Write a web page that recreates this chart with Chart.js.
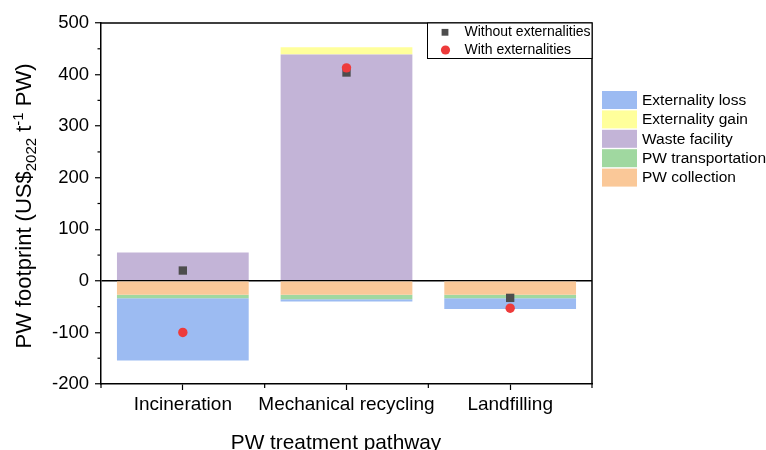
<!DOCTYPE html>
<html>
<head>
<meta charset="utf-8">
<script src="https://cdn.jsdelivr.net/npm/chart.js@4.4.1/dist/chart.umd.min.js"></script>
<style>
  html, body { margin: 0; padding: 0; background: #fff; }
  #wrap { width: 766px; height: 450px; }
</style>
</head>
<body>
<div id="wrap"><canvas id="grafico" width="766" height="450"></canvas></div>
<script>
// dados (US$2022 por t de PW)
const categorias = ['Incineration', 'Mechanical recycling', 'Landfilling'];
const pwCollection = [-27, -27, -27];
const pwTransportation = [-6.5, -8.5, -6.5];
const wasteFacility = [55, 439, 0];
const externalityGain = [0, 14, 0];
const externalityLoss = [-121, -4.5, -21];
const withoutExternalities = [20, 404, -33];
const withExternalities = [-100, 413, -53];

const yMin = -200, yMax = 500, yStep = 100;

const FONTE = "'Liberation Sans', Arial, sans-serif";

const cores = {
    loss: 'rgb(156,187,242)',
    gain: 'rgb(255,255,155)',
    waste: 'rgb(195,180,215)',
    transp: 'rgb(160,216,160)',
    collect: 'rgb(250,200,152)'
};

// ordem do empilhamento: a partir do zero
const seriesBarras = [
    { label: 'PW collection', data: pwCollection, cor: cores.collect },
    { label: 'PW transportation', data: pwTransportation, cor: cores.transp },
    { label: 'Waste facility', data: wasteFacility, cor: cores.waste },
    { label: 'Externality gain', data: externalityGain, cor: cores.gain },
    { label: 'Externality loss', data: externalityLoss, cor: cores.loss }
];

const extras = {
    id: 'extras',
    afterDraw(chart) {
        const ctx = chart.ctx;
        const { left, right, top, bottom } = chart.chartArea;
        const y = chart.scales.y;
        ctx.save();
        ctx.strokeStyle = '#000';
        ctx.lineWidth = 1.5;
        // moldura de cima e da direita
        ctx.beginPath();
        ctx.moveTo(left, top);
        ctx.lineTo(right, top);
        ctx.lineTo(right, bottom);
        ctx.stroke();

        // ticks menores no eixo y
        ctx.lineWidth = 1.2;
        for (let v = yMin + yStep / 2; v < yMax; v += yStep) {
            const py = y.getPixelForValue(v);
            ctx.beginPath();
            ctx.moveTo(left - 3.5, py);
            ctx.lineTo(left, py);
            ctx.stroke();
        }
        // ticks entre as categorias
        const w = (right - left) / categorias.length;
        for (let i = 0; i <= categorias.length; i++) {
            const px = left + i * w;
            ctx.beginPath();
            ctx.moveTo(px, bottom);
            ctx.lineTo(px, bottom + 4);
            ctx.stroke();
        }

        // título do eixo x
        ctx.fillStyle = '#000';
        ctx.font = '20.8px ' + FONTE;
        ctx.textAlign = 'center';
        ctx.textBaseline = 'alphabetic';
        ctx.fillText('PW treatment pathway', 336, 449);
        ctx.textAlign = 'left';

        // título do eixo y com sub e sobrescrito
        ctx.save();
        ctx.translate(31, (top + bottom) / 2 + 2.5);
        ctx.rotate(-Math.PI / 2);
        const partes = [
            { t: 'PW footprint (US$', s: 22, dy: 0 },
            { t: '2022', s: 15, dy: 5 },
            { t: ' t', s: 22, dy: 0 },
            { t: '-1', s: 15, dy: -8.5 },
            { t: ' PW)', s: 22, dy: 0 }
        ];
        let total = 0;
        partes.forEach(p => {
            ctx.font = p.s + 'px ' + FONTE;
            p.w = ctx.measureText(p.t).width;
            total += p.w;
        });
        let cx = -total / 2;
        partes.forEach(p => {
            ctx.font = p.s + 'px ' + FONTE;
            ctx.fillText(p.t, cx, p.dy);
            cx += p.w;
        });
        ctx.restore();

        // legenda dos pontos (dentro do gráfico)
        ctx.fillStyle = '#fff';
        ctx.fillRect(427.5, top, right - 427.5, 58.5 - top);
        ctx.lineWidth = 1;
        ctx.strokeStyle = '#000';
        ctx.strokeRect(427.5, top, right - 427.5, 58.5 - top);
        ctx.font = '14px ' + FONTE;
        ctx.textBaseline = 'middle';
        ctx.fillStyle = '#4d4d4d';
        ctx.fillRect(445 - 3.4, 32.3 - 3.4, 6.8, 6.8);
        ctx.fillStyle = '#000';
        ctx.fillText('Without externalities', 464.5, 32.5);
        ctx.fillStyle = '#ee3b3b';
        ctx.beginPath();
        ctx.arc(445.5, 50, 4.6, 0, Math.PI * 2);
        ctx.fill();
        ctx.fillStyle = '#000';
        ctx.fillText('With externalities', 464.5, 50);

        // legenda das barras (fora, à direita)
        ctx.font = '15.5px ' + FONTE;
        const itens = seriesBarras.slice().reverse();
        itens.forEach((s, i) => {
            const ty = 91 + i * 19.4;
            ctx.fillStyle = s.cor;
            ctx.fillRect(602, ty, 35, 18);
            ctx.fillStyle = '#000';
            ctx.fillText(s.label, 642, ty + 9.5);
        });
        ctx.restore();
    }
};

const datasets = seriesBarras.map(s => ({
    type: 'bar',
    label: s.label,
    data: s.data,
    backgroundColor: s.cor,
    borderWidth: 0,
    categoryPercentage: 1,
    barPercentage: 0.805,
    order: 2
}));

datasets.push({
    type: 'line',
    label: 'Without externalities',
    data: withoutExternalities,
    stack: 'semExt',
    showLine: false,
    pointStyle: 'rect',
    pointRadius: 5.9,
    pointBackgroundColor: '#4d4d4d',
    pointBorderWidth: 0,
    order: 1
});
datasets.push({
    type: 'line',
    label: 'With externalities',
    data: withExternalities,
    stack: 'comExt',
    showLine: false,
    pointStyle: 'circle',
    pointRadius: 4.7,
    pointBackgroundColor: '#ee3b3b',
    pointBorderWidth: 0,
    order: 0
});

const ctx = document.getElementById('grafico').getContext('2d');
const grafico = new Chart(ctx, {
    type: 'bar',
    data: { labels: categorias, datasets: datasets },
    plugins: [extras],
    options: {
        responsive: false,
        animation: false,
        layout: { padding: { top: 23, right: 174, left: 0, bottom: 0 } },
        plugins: {
            legend: { display: false },
            tooltip: { enabled: false }
        },
        scales: {
            x: {
                stacked: true,
                offset: true,
                border: { color: '#000', width: 1.5 },
                grid: { drawOnChartArea: false, offset: false, tickLength: 6, tickColor: '#000', tickWidth: 1.2 },
                ticks: {
                    color: '#000', padding: 3, autoSkip: false, maxRotation: 0, minRotation: 0,
                    font: { family: FONTE, size: 19 }
                },
                title: { display: false },
                afterFit(scale) { scale.height = 66; }
            },
            y: {
                stacked: true,
                min: yMin,
                max: yMax,
                border: { color: '#000', width: 1.5 },
                grid: {
                    color: c => (c.tick && c.tick.value === 0) ? '#000' : 'rgba(0,0,0,0)',
                    lineWidth: 1.5,
                    tickLength: 6,
                    tickColor: '#000',
                    tickWidth: 1.2
                },
                ticks: { stepSize: yStep, color: '#000', padding: 6, font: { family: FONTE, size: 18.5 } },
                title: { display: false },
                afterFit(scale) { scale.width = 101; }
            }
        }
    }
});
</script>
</body>
</html>
